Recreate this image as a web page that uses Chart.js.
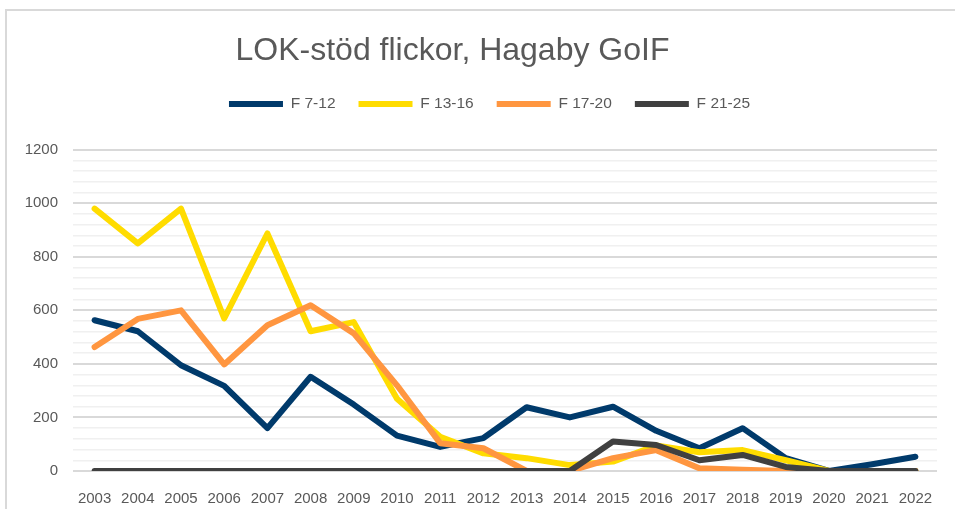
<!DOCTYPE html>
<html>
<head>
<meta charset="utf-8">
<script src="https://cdn.jsdelivr.net/npm/chart.js@4/dist/chart.umd.min.js"></script>
<style>
  html, body { margin: 0; padding: 0; background: #fff; overflow: hidden; }
  #wrap { position: relative; width: 955px; height: 509px; }
  #frame { position: absolute; left: 5px; top: 9px; width: 980px; height: 540px;
           border-top: 2px solid #d9d9d9; border-left: 2px solid #d9d9d9; pointer-events: none; }
</style>
</head>
<body>
<div id="wrap">
  <canvas id="chart" width="955" height="509"></canvas>
  <div id="frame"></div>
</div>
<script>
const years = ['2003', '2004', '2005', '2006', '2007', '2008', '2009', '2010', '2011', '2012',
               '2013', '2014', '2015', '2016', '2017', '2018', '2019', '2020', '2021', '2022'];

const f7_12  = [563, 522, 395, 318, 160, 352, 248, 132, 90, 123, 238, 200, 240, 150, 85, 160, 48, 0, 25, 53];
const f13_16 = [980, 850, 980, 570, 887, 522, 556, 270, 128, 66, 48, 22, 35, 95, 70, 78, 40, 0, 0, 0];
const f17_20 = [463, 568, 600, 398, 544, 619, 514, 320, 104, 85, 0, 0, 48, 78, 10, 5, 0, 0, 0, 0];
const f21_25 = [0, 0, 0, 0, 0, 0, 0, 0, 0, 0, 0, 0, 110, 97, 40, 60, 15, 0, 0, 0];

const yTicks = [0, 200, 400, 600, 800, 1000, 1200];

const FONT = '"Liberation Sans", Arial, sans-serif';
const GREY = '#595959';

// extra gap under the legend, and nudges so title/legend sit like the original
const legendGap = {
  id: 'legendGap',
  afterInit(chart) {
    const lg = chart.legend;
    const fit = lg.fit;
    lg.fit = function () {
      fit.call(this);
      this.height += 28;
    };
  },
  afterLayout(chart) {
    chart.titleBlock.left -= 16;
    chart.titleBlock.right -= 16;
    chart.legend.left += 21;
    chart.legend.right += 21;
  }
};

function line(label, data, color, order) {
  return {
    label, data, order,
    borderColor: color,
    backgroundColor: color,
    borderWidth: 6,
    borderCapStyle: 'round',
    borderJoinStyle: 'round',
    pointRadius: 0,
    pointHoverRadius: 0,
    tension: 0
  };
}

new Chart(document.getElementById('chart'), {
  type: 'line',
  data: {
    labels: years,
    datasets: [
      line('F 7-12', f7_12, '#003a6b', 4),
      line('F 13-16', f13_16, '#ffdc00', 3),
      line('F 17-20', f17_20, '#ff9640', 2),
      line('F 21-25', f21_25, '#404040', 1)
    ]
  },
  options: {
    responsive: false,
    animation: false,
    devicePixelRatio: 1,
    layout: { padding: { left: 0, right: 18, top: 0, bottom: 0 } },
    plugins: {
      title: {
        display: true,
        text: 'LOK-stöd flickor, Hagaby GoIF',
        color: GREY,
        font: { family: FONT, size: 32, weight: 'normal', lineHeight: 1.1 },
        padding: { top: 34, bottom: 4 }
      },
      legend: {
        display: true,
        position: 'top',
        labels: {
          color: GREY,
          font: { family: FONT, size: 15.5 },
          usePointStyle: true,
          pointStyle: 'line',
          pointStyleWidth: 54,
          padding: 23,
          sort: (a, b) => a.datasetIndex - b.datasetIndex
        }
      },
      tooltip: { enabled: false }
    },
    scales: {
      x: {
        offset: true,
        grid: { display: false },
        border: { display: false },
        ticks: { color: GREY, font: { family: FONT, size: 15 }, padding: 11, maxRotation: 0 },
        afterFit: (s) => { s.height = 38; }
      },
      y: {
        min: 0,
        max: 1200,
        border: { display: false },
        grid: {
          drawTicks: false,
          color: (c) => yTicks.includes(c.tick.value) ? '#d9d9d9' : '#f0f0f0',
          lineWidth: (c) => yTicks.includes(c.tick.value) ? 2 : 1.5
        },
        ticks: {
          stepSize: 40,
          autoSkip: false,
          color: GREY,
          font: { family: FONT, size: 15 },
          padding: 15,
          callback: (v) => yTicks.includes(v) ? v : ''
        },
        afterFit: (s) => { s.width = 73; }
      }
    }
  },
  plugins: [legendGap]
});
</script>
</body>
</html>
